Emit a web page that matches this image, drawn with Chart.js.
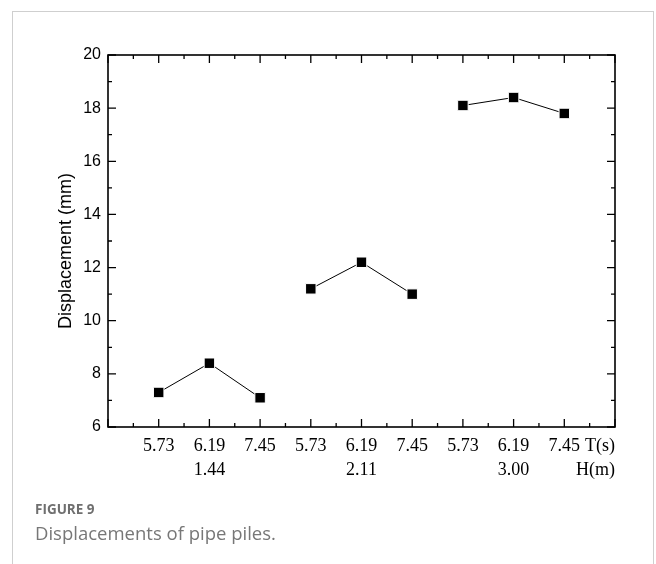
<!DOCTYPE html>
<html>
<head>
<meta charset="utf-8">
<script src="https://cdn.jsdelivr.net/npm/chart.js@4"></script>
<style>
  html, body { margin: 0; padding: 0; background: #fff; }
  body { width: 656px; height: 564px; position: relative; overflow: hidden; }
  #card { position: absolute; left: 12px; top: 11px; width: 642px; height: 600px;
          border: 1px solid #cfcfcf; border-bottom: none; box-sizing: border-box; }
  #chart { position: absolute; left: 0; top: 0; }
  .fig { position: absolute; left: 35px; top: 500px; font-family: "Open Sans", sans-serif;
         font-weight: bold; font-size: 13.5px; color: #6f6f6f; }
  .cap { position: absolute; left: 35px; top: 520px; font-family: "Open Sans", sans-serif;
         font-size: 18.5px; color: #777; }
</style>
</head>
<body>
<div id="card"></div>
<canvas id="chart" width="656" height="564"></canvas>
<div class="fig">FIGURE 9</div>
<div class="cap">Displacements of pipe piles.</div>
<script>
// wave period T(s) for each point, wave height H(m) for each group
const periods = ['5.73', '6.19', '7.45'];
const heights = ['1.44', '2.11', '3.00'];

// displacement (mm) per wave height group
const disp144 = [7.3, 8.4, 7.1];
const disp211 = [11.2, 12.2, 11.0];
const disp300 = [18.1, 18.4, 17.8];

const yMin = 6, yMax = 20, yStep = 2;

function groupPoints(vals, g) {
    return vals.map((v, i) => ({ x: g * periods.length + i + 1, y: v }));
}

function makeSet(vals, g) {
    return {
        data: groupPoints(vals, g),
        borderColor: '#000',
        borderWidth: 1,
        backgroundColor: '#000',
        pointStyle: 'rect',
        pointRadius: 7.4,
        pointBackgroundColor: '#000',
        pointBorderColor: '#fff',
        pointBorderWidth: 1,
        showLine: true,
        tension: 0
    };
}

const nCats = periods.length * heights.length + 1;

// frame + inward ticks, axis end labels and y title
const framePlugin = {
    id: 'frame',
    afterDraw(chart) {
        const { ctx, chartArea: a, scales: { x, y } } = chart;
        ctx.save();
        ctx.strokeStyle = '#000';
        ctx.lineWidth = 1.6;
        ctx.strokeRect(a.left, a.top, a.right - a.left, a.bottom - a.top);
        ctx.lineWidth = 1.3;
        ctx.beginPath();
        for (let v = 0; v <= nCats; v += 0.5) {
            const px = x.getPixelForValue(v);
            const len = Number.isInteger(v) ? 8 : 4;
            ctx.moveTo(px, a.bottom); ctx.lineTo(px, a.bottom - len);
            ctx.moveTo(px, a.top); ctx.lineTo(px, a.top + len);
        }
        for (let v = yMin; v <= yMax; v += yStep / 2) {
            const py = y.getPixelForValue(v);
            const len = (v - yMin) % yStep === 0 ? 8 : 4;
            ctx.moveTo(a.left, py); ctx.lineTo(a.left + len, py);
            ctx.moveTo(a.right, py); ctx.lineTo(a.right - len, py);
        }
        ctx.stroke();

        ctx.fillStyle = '#000';
        ctx.font = '18px "Liberation Serif", "Times New Roman", serif';
        ctx.textAlign = 'right';
        ctx.textBaseline = 'middle';
        ctx.fillText('T(s)', a.right, a.bottom + 19);
        ctx.fillText('H(m)', a.right, a.bottom + 43);

        ctx.translate(66, (a.top + a.bottom) / 2 + 10);
        ctx.rotate(-Math.PI / 2);
        ctx.textAlign = 'center';
        ctx.font = '18px "Liberation Sans", Arial, sans-serif';
        ctx.fillText('Displacement (mm)', 0, 0);
        ctx.restore();
    }
};

new Chart(document.getElementById('chart'), {
    type: 'scatter',
    data: {
        datasets: [makeSet(disp144, 0), makeSet(disp211, 1), makeSet(disp300, 2)]
    },
    options: {
        responsive: false,
        animation: false,
        devicePixelRatio: 1,
        layout: { padding: { top: 55, right: 41, left: 0, bottom: 0 } },
        plugins: { legend: { display: false }, tooltip: { enabled: false } },
        scales: {
            x: {
                type: 'linear', min: 0, max: nCats,
                grid: { display: false, drawTicks: false },
                border: { display: false },
                afterFit: s => { s.height = 137; },
                ticks: {
                    stepSize: 1, autoSkip: false, maxRotation: 0, padding: 7,
                    color: '#000',
                    font: { family: '"Liberation Serif", "Times New Roman", serif', size: 18, lineHeight: 1.333 },
                    callback: v => {
                        if (v < 1 || v >= nCats) return '';
                        const i = (v - 1) % periods.length;
                        const g = Math.floor((v - 1) / periods.length);
                        return i === 1 ? [periods[i], heights[g]] : periods[i];
                    }
                }
            },
            y: {
                min: yMin, max: yMax,
                grid: { display: false, drawTicks: false },
                border: { display: false },
                afterFit: s => { s.width = 108; },
                ticks: {
                    stepSize: yStep, padding: 7, color: '#000',
                    font: { family: '"Liberation Sans", Arial, sans-serif', size: 16 }
                }
            }
        }
    },
    plugins: [framePlugin]
});
</script>
</body>
</html>
